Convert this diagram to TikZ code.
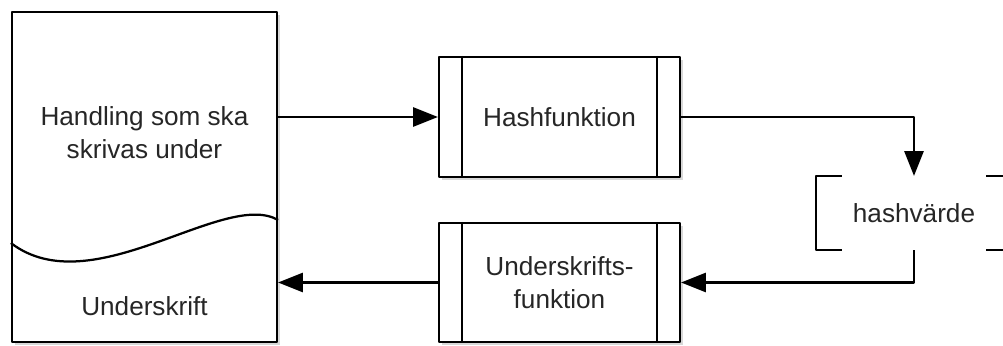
\documentclass[tikz,border=0pt]{standalone}
\usepackage{fontspec}
\setmainfont{Liberation Sans}
\usetikzlibrary{arrows.meta,shadows}

\begin{document}
\begin{tikzpicture}[line width=1.6pt, line join=round, >={Triangle[length=0.62cm,width=0.48cm]},
		font=\fontsize{18.6}{23.4}\selectfont, text=black!85,
		box/.style={draw, fill=white, align=center, inner sep=0pt, minimum width=6.025cm,
			drop shadow={shadow xshift=0.08cm, shadow yshift=-0.08cm, fill=black!30}}]
		\useasboundingbox (0,0) rectangle (25.075,8.625);
		% document
		\node[box, minimum width=6.625cm, minimum height=8.25cm] (doc) at (3.6125,4.2) {};
		\draw ([yshift=-1.65cm]doc.west) .. controls (2.3,1.0) and (5.6,3.9) .. ([yshift=-1.075cm]doc.east);
		\node[align=center] (doctext) at (3.6125,5.3) {Handling som ska\\skrivas under};
		\node (signtext) at (3.6125,0.975) {Underskrift};
		% functions
		\node[box, minimum height=3cm] (hash) at (13.9875,5.7) {Hashfunktion};
		\node[box, minimum height=2.975cm] (sign) at (13.9875,1.5625) {Underskrifts-\\funktion};
		\foreach \n in {hash,sign}{
			\draw ([xshift=0.6cm]\n.north west) -- ([xshift=0.6cm]\n.south west);
			\draw ([xshift=-0.6cm]\n.north east) -- ([xshift=-0.6cm]\n.south east);
		}
		% hash value
		\node[minimum width=4.85cm, minimum height=1.8cm, inner sep=0pt] (hv) at (22.85,3.3) {hashvärde};
		\draw ([xshift=0.65cm]hv.north west) -- (hv.north west) -- (hv.south west) -- ([xshift=0.65cm]hv.south west);
		\draw ([xshift=-0.65cm]hv.north east) -- (hv.north east) -- (hv.south east) -- ([xshift=-0.65cm]hv.south east);
		% flow
		\draw[->] (doc.east |- hash.west) -- (hash.west);
		\draw[->] (hash.east) -| (hv.north);
		\draw[->] (hv.south) |- (sign.east);
		\draw[->] (sign.west) -- (sign.west -| doc.east);
\end{tikzpicture}
\end{document}
